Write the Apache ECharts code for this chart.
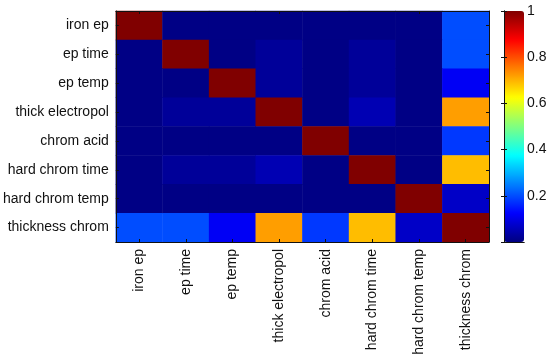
<!DOCTYPE html>
<html><head><meta charset="utf-8">
<script src="https://cdn.jsdelivr.net/npm/echarts@6/dist/echarts.min.js"></script>
<style>html,body{margin:0;padding:0;background:#fff}#c{width:550px;height:362px}</style>
</head><body><div id="c"></div>
<script>
var categories = ['iron ep','ep time','ep temp','thick electropol','chrom acid','hard chrom time','hard chrom temp','thickness chrom'];
var rowIronEp        = [1, 0.005, 0.005, 0.005, 0.005, 0.005, 0.005, 0.20];
var rowEpTime        = [0.005, 1, 0.005, 0.025, 0.005, 0.025, 0.005, 0.20];
var rowEpTemp        = [0.005, 0.005, 1, 0.025, 0.005, 0.025, 0.005, 0.115];
var rowThickElectro  = [0.005, 0.025, 0.025, 1, 0.005, 0.05, 0.005, 0.72];
var rowChromAcid     = [0.005, 0.005, 0.005, 0.005, 1, 0.005, 0.005, 0.18];
var rowHardChromTime = [0.005, 0.025, 0.025, 0.05, 0.005, 1, 0.005, 0.69];
var rowHardChromTemp = [0.005, 0.005, 0.005, 0.005, 0.005, 0.005, 1, 0.07];
var rowThicknessChrom= [0.20, 0.20, 0.115, 0.72, 0.18, 0.69, 0.07, 1];
var colorbarTicks = [0.2, 0.4, 0.6, 0.8, 1];

var rows = [rowIronEp,rowEpTime,rowEpTemp,rowThickElectro,rowChromAcid,rowHardChromTime,rowHardChromTemp,rowThicknessChrom];
var data = [];
rows.forEach(function(r, i){ r.forEach(function(v, j){ data.push([j, i, v]); }); });

var jet = ['#000080','#0000FF','#0080FF','#00FFFF','#80FF80','#FFFF00','#FF8000','#FF0000','#800000'];
var font = {fontFamily:'Liberation Sans', fontSize:14, color:'#111'};
var line = {show:true, lineStyle:{color:'#111', width:1}};
var tick = {show:true, inside:true, length:3, alignWithLabel:true, lineStyle:{color:'#111'}};
var vtick = {show:true, inside:true, length:3, lineStyle:{color:'#111'}};

var chart = echarts.init(document.getElementById('c'));
chart.setOption({
  animation:false,
  grid:[
    {left:115, top:11, width:374, height:231},
    {left:504, top:11, width:20, height:231}
  ],
  xAxis:[
    {gridIndex:0, type:'category', data:categories, position:'bottom', z:10, axisLine:line, axisTick:tick,
     axisLabel:Object.assign({rotate:90, margin:7, interval:0}, font), splitLine:{show:false}},
    {gridIndex:0, type:'category', data:categories, position:'top', z:10, axisLine:line, axisTick:tick,
     axisLabel:{show:false}, splitLine:{show:false}},
    {gridIndex:1, type:'value', min:0, max:1, z:10, position:'bottom', axisLine:line, axisTick:{show:false}, axisLabel:{show:false}, splitLine:{show:false}},
    {gridIndex:1, type:'value', min:0, max:1, z:10, position:'top', axisLine:line, axisTick:{show:false}, axisLabel:{show:false}, splitLine:{show:false}}
  ],
  yAxis:[
    {gridIndex:0, type:'category', data:categories, inverse:true, position:'left', z:10, axisLine:line, axisTick:tick,
     axisLabel:Object.assign({margin:7, interval:0}, font), splitLine:{show:false}},
    {gridIndex:0, type:'category', data:categories, inverse:true, position:'right', z:10, axisLine:line, axisTick:tick,
     axisLabel:{show:false}, splitLine:{show:false}},
    {gridIndex:1, type:'value', min:0, max:1, interval:0.2, position:'right', z:10, axisLine:line, axisTick:vtick,
     axisLabel:Object.assign({margin:3, formatter:function(v){ var r = Math.round(v*10)/10; return colorbarTicks.indexOf(r)>=0 ? String(r) : ''; }}, font),
     splitLine:{show:false}},
    {gridIndex:1, type:'value', min:0, max:1, interval:0.2, position:'left', z:10, axisLine:line, axisTick:vtick,
     axisLabel:{show:false}, splitLine:{show:false}}
  ],
  visualMap:{
    type:'continuous', min:0, max:1, seriesIndex:0, calculable:false, orient:'vertical',
    left:504, top:11, itemWidth:20, itemHeight:231, padding:0, text:null,
    inRange:{color:jet}, textStyle:{color:'transparent'}
  },
  series:[
    {type:'heatmap', xAxisIndex:0, yAxisIndex:0, data:data, itemStyle:{borderWidth:0}, emphasis:{disabled:true}},
    {type:'scatter', xAxisIndex:2, yAxisIndex:2, data:[], silent:true}
  ]
});
</script></body></html>
